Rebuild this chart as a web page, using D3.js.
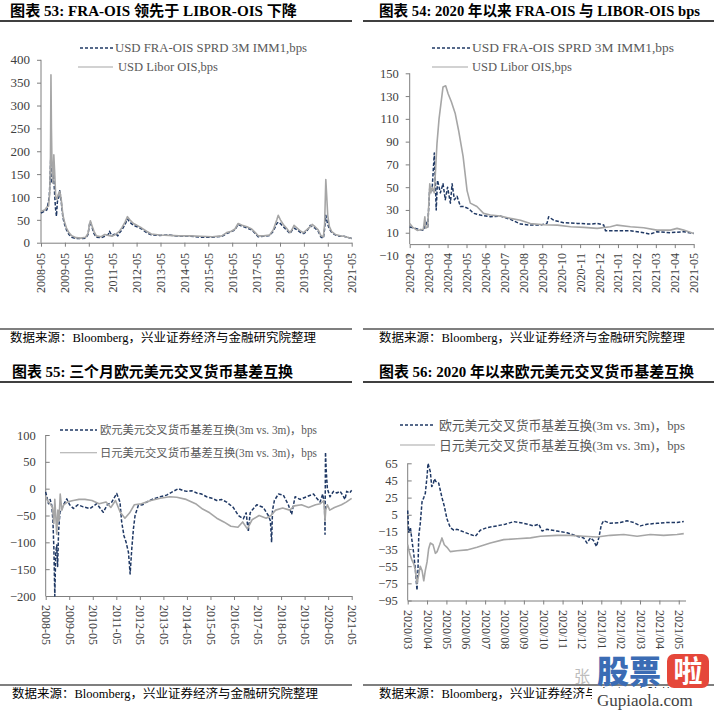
<!DOCTYPE html>
<html>
<head>
<meta charset="utf-8">
<script src="https://cdn.jsdelivr.net/npm/d3@7"></script>
<style>
  body { margin: 0; background: #fff; }
  svg text { font-family: "Liberation Serif", "Noto Sans CJK SC", serif; }
</style>
</head>
<body>
<svg id="chart" width="714" height="710"></svg>
<script>
// ---- Panel 53: FRA-OIS vs Libor-OIS since 2008 (x = decimal year, bps)
const p1Labels = ["2008-05","2009-05","2010-05","2011-05","2012-05","2013-05","2014-05",
  "2015-05","2016-05","2017-05","2018-05","2019-05","2020-05","2021-05"];
const p1Fra = [[2008.33,65],[2008.45,68],[2008.58,72],[2008.68,100],[2008.72,150],[2008.74,185],
  [2008.76,130],[2008.79,165],[2008.82,135],[2008.86,150],[2008.90,110],[2008.94,75],[2008.98,58],
  [2009.02,90],[2009.08,100],[2009.12,115],[2009.18,90],[2009.25,55],[2009.32,40],[2009.40,28],
  [2009.50,18],[2009.62,12],[2009.80,9],[2010.00,9],[2010.20,10],[2010.30,18],[2010.37,42],
  [2010.40,45],[2010.46,35],[2010.55,20],[2010.65,12],[2010.85,11],[2011.00,14],[2011.15,18],
  [2011.20,25],[2011.30,15],[2011.45,20],[2011.55,15],[2011.62,22],[2011.72,28],[2011.85,40],
  [2011.95,52],[2012.05,45],[2012.20,38],[2012.35,35],[2012.55,30],[2012.75,22],[2012.95,17],
  [2013.30,16],[2013.70,17],[2014.10,14],[2014.60,14],[2015.00,12],[2015.50,12],[2015.90,14],
  [2016.10,20],[2016.30,24],[2016.45,28],[2016.58,40],[2016.75,36],[2016.95,32],[2017.15,28],
  [2017.30,20],[2017.42,13],[2017.65,14],[2017.90,16],[2018.05,25],[2018.20,42],[2018.26,45],
  [2018.35,42],[2018.47,35],[2018.60,28],[2018.75,20],[2018.85,28],[2018.92,32],[2019.05,28],
  [2019.20,22],[2019.32,20],[2019.45,25],[2019.60,38],[2019.68,35],[2019.80,32],[2019.93,25],
  [2020.05,12],[2020.15,10],[2020.20,30],[2020.25,60],[2020.29,50],[2020.33,40],[2020.40,30],
  [2020.50,22],[2020.65,17],[2020.85,14],[2021.00,14],[2021.15,12],[2021.33,9]];
const p1Libor = [[2008.33,68],[2008.40,70],[2008.50,72],[2008.58,78],[2008.65,80],[2008.70,110],
  [2008.73,190],[2008.75,367],[2008.77,250],[2008.80,150],[2008.83,130],[2008.87,192],[2008.90,160],
  [2008.95,100],[2009.00,95],[2009.05,105],[2009.12,112],[2009.18,95],[2009.25,60],[2009.32,45],
  [2009.40,32],[2009.50,22],[2009.62,15],[2009.80,11],[2010.00,10],[2010.20,12],[2010.30,20],
  [2010.36,40],[2010.40,48],[2010.46,38],[2010.55,25],[2010.65,15],[2010.85,13],[2011.00,18],
  [2011.15,16],[2011.30,14],[2011.45,18],[2011.60,24],[2011.72,33],[2011.85,45],[2011.95,57],
  [2012.05,50],[2012.20,42],[2012.35,38],[2012.55,32],[2012.75,25],[2012.95,19],[2013.30,17],
  [2013.70,16],[2014.10,15],[2014.60,15],[2015.00,14],[2015.50,13],[2015.90,15],[2016.10,22],
  [2016.30,25],[2016.45,30],[2016.58,42],[2016.75,38],[2016.95,35],[2017.15,30],[2017.30,22],
  [2017.42,15],[2017.65,15],[2017.90,17],[2018.05,28],[2018.20,50],[2018.26,60],[2018.35,50],
  [2018.47,40],[2018.60,32],[2018.75,22],[2018.85,30],[2018.92,38],[2019.05,32],[2019.20,25],
  [2019.32,22],[2019.45,28],[2019.60,35],[2019.68,40],[2019.80,35],[2019.93,28],[2020.05,15],
  [2020.15,13],[2020.20,40],[2020.25,138],[2020.29,100],[2020.33,60],[2020.40,35],[2020.50,24],
  [2020.65,18],[2020.85,15],[2021.00,14],[2021.15,12],[2021.33,9]];

// ---- Panel 54: since 2020 (x = months after 2020-02)
const p2Labels = ["2020-02","2020-03","2020-04","2020-05","2020-06","2020-07","2020-08","2020-09",
  "2020-10","2020-11","2020-12","2021-01","2021-02","2021-03","2021-04","2021-05"];
const p2Fra = [[0,15],[0.30,13.8],[0.74,12],[0.83,21],[0.95,15],[1.06,50],[1.18,47],[1.30,80],
  [1.40,30],[1.47,56],[1.62,45],[1.76,53],[1.88,39],[2.00,50],[2.15,36],[2.24,53],[2.36,39],
  [2.50,42],[2.68,33],[2.85,33],[3.12,31],[3.38,27],[3.73,25.5],[4.26,24],[4.79,24.6],[5.32,21.7],
  [5.85,17.6],[6.37,16.7],[6.90,16.7],[7.25,18.2],[7.34,24],[7.60,21],[8.13,18.8],[8.84,18.2],
  [9.54,17.6],[9.90,18.2],[10.25,16.7],[10.34,11.8],[10.95,11.8],[11.66,11.8],[12.36,10],
  [12.71,8.8],[13.06,10.9],[13.77,10],[14.47,10.9],[15,9.4]];
const p2Libor = [[0,18],[0.15,15],[0.40,12],[0.72,13],[0.80,24],[0.85,14],[0.95,15],[1.06,53],
  [1.12,45],[1.19,50],[1.30,45],[1.44,88],[1.55,110],[1.76,138],[1.90,139],[2.03,132],[2.20,125],
  [2.40,115],[2.58,100],[2.82,77],[3.03,47],[3.20,36],[3.55,33],[3.90,27],[4.26,25.5],[4.79,24.6],
  [5.32,22.6],[5.85,21],[6.37,18],[7.08,17],[7.80,16.7],[8.50,15.3],[9.20,14.7],[9.90,13.8],
  [10.60,15.3],[10.95,16.7],[11.66,15.3],[12.36,14.4],[13.06,12.3],[13.77,12.3],[14.12,13.8],
  [14.47,12.3],[15,9.4]];

// ---- Panel 55: 3m cross currency basis since 2008 (x = decimal year, bps)
const p3Labels = p1Labels;
const p3Eur = [[2008.33,-6],[2008.45,-28],[2008.52,-20],[2008.59,-31],[2008.64,-60],[2008.68,-110],
  [2008.72,-200],[2008.76,-120],[2008.80,-105],[2008.84,-145],[2008.88,-80],[2008.94,-44],
  [2009.08,-31],[2009.23,-19],[2009.35,-30],[2009.51,-37],[2009.70,-30],[2009.93,-34],[2010.22,-37],
  [2010.50,-28],[2010.78,-44],[2010.95,-30],[2011.14,-25],[2011.35,-9],[2011.49,-25],[2011.56,-62],
  [2011.66,-88],[2011.75,-100],[2011.85,-119],[2011.92,-159],[2011.99,-112],[2012.06,-75],
  [2012.13,-50],[2012.27,-31],[2012.45,-30],[2012.62,-25],[2012.91,-19],[2013.20,-15],[2013.47,-12],
  [2013.75,-5],[2013.97,0],[2014.15,-3],[2014.32,-5],[2014.55,-4],[2014.75,-8],[2014.95,-10],
  [2015.17,-15],[2015.40,-18],[2015.60,-22],[2015.80,-20],[2016.02,-25],[2016.30,-35],[2016.52,-50],
  [2016.73,-56],[2016.85,-45],[2016.94,-80],[2017.02,-45],[2017.10,-40],[2017.30,-30],[2017.58,-35],
  [2017.79,-50],[2017.88,-60],[2017.93,-100],[2017.97,-40],[2018.05,-22],[2018.22,-10],[2018.43,-12],
  [2018.64,-30],[2018.78,-48],[2018.86,-30],[2018.93,-15],[2019.14,-20],[2019.42,-15],[2019.71,-10],
  [2019.85,-18],[2019.99,-25],[2020.10,-10],[2020.18,-30],[2020.20,-85],[2020.22,68],[2020.25,35],
  [2020.30,0],[2020.41,-15],[2020.56,-5],[2020.70,-8],[2020.84,-5],[2020.95,-12],[2021.05,-20],
  [2021.12,-5],[2021.25,-8],[2021.33,-3]];
const p3Jpy = [[2008.33,-15],[2008.45,-25],[2008.55,-30],[2008.62,-35],[2008.68,-65],[2008.72,-20],
  [2008.76,-50],[2008.80,-85],[2008.85,-40],[2008.90,-60],[2008.95,-10],[2009.02,-40],[2009.10,-30],
  [2009.25,-25],[2009.50,-22],[2009.75,-20],[2010.00,-20],[2010.30,-22],[2010.60,-28],[2010.90,-25],
  [2011.10,-35],[2011.30,-22],[2011.50,-44],[2011.70,-55],[2011.90,-45],[2012.10,-30],[2012.40,-28],
  [2012.80,-22],[2013.20,-18],[2013.60,-15],[2013.90,-16],[2014.30,-20],[2014.70,-28],[2015.00,-38],
  [2015.30,-45],[2015.60,-55],[2015.90,-62],[2016.20,-70],[2016.50,-72],[2016.70,-62],[2016.90,-75],
  [2017.10,-58],[2017.40,-50],[2017.70,-55],[2017.90,-50],[2018.10,-40],[2018.40,-36],[2018.70,-40],
  [2018.90,-32],[2019.20,-30],[2019.50,-35],[2019.80,-30],[2020.00,-28],[2020.15,-22],[2020.20,-60],
  [2020.23,-40],[2020.30,-30],[2020.40,-40],[2020.60,-35],[2020.90,-30],[2021.10,-25],[2021.33,-18]];

// ---- Panel 56: since 2020 (x = months after 2020/03)
const p4Labels = ["2020/03","2020/04","2020/05","2020/06","2020/07","2020/08","2020/09","2020/10",
  "2020/11","2020/12","2021/01","2021/02","2021/03","2021/04","2021/05"];
const p4Eur = [[0,10],[0.05,-15],[0.14,-10],[0.22,-25],[0.31,-40],[0.40,-60],[0.48,-83],[0.53,-60],
  [0.57,-20],[0.65,-5],[0.74,20],[0.83,25],[0.91,30],[1.00,50],[1.05,65],[1.17,55],[1.24,38],
  [1.31,40],[1.38,47],[1.45,44],[1.60,42],[1.77,25],[1.89,15],[2.03,0],[2.20,-10],[2.38,-13],
  [2.55,-12],[2.89,-15],[3.24,-18],[3.50,-20],[3.75,-13],[4.10,-10],[4.61,-8],[5.04,-6],[5.48,-3],
  [6.00,-5],[6.50,-8],[6.77,-6],[6.94,-14],[7.20,-12],[7.71,-14],[8.23,-16],[8.75,-20],[9.09,-22],
  [9.26,-28],[9.44,-22],[9.60,-25],[9.75,-32],[9.87,-22],[10.00,-7],[10.12,-2],[10.47,-5],
  [10.98,-4],[11.33,-2],[11.67,-4],[12.02,-8],[12.36,-6],[12.88,-5],[13.40,-4],[13.91,-4],[14.26,-3]];
const p4Jpy = [[0,-30],[0.10,-40],[0.22,-48],[0.31,-52],[0.40,-60],[0.48,-75],[0.57,-65],[0.65,-55],
  [0.74,-60],[0.83,-72],[0.91,-60],[1.00,-50],[1.08,-35],[1.17,-28],[1.31,-30],[1.43,-40],[1.52,-38],
  [1.65,-30],[1.77,-22],[1.89,-30],[2.03,-33],[2.20,-38],[2.55,-37],[3.06,-36],[3.58,-33],[4.27,-28],
  [4.96,-24],[5.65,-23],[6.34,-22],[6.85,-20],[7.71,-19],[8.40,-19],[9.09,-20],[9.78,-21],
  [10.47,-19],[11.16,-18],[11.85,-20],[12.53,-18],[13.22,-19],[13.91,-18],[14.26,-17]];

const titles = ["图表 53:  FRA-OIS 领先于 LIBOR-OIS 下降", "图表 54:  2020 年以来 FRA-OIS 与 LIBOR-OIS bps",
  "图表 55:  三个月欧元美元交叉货币基差互换", "图表 56:  2020 年以来欧元美元交叉货币基差互换"];
const source = "数据来源：Bloomberg，兴业证券经济与金融研究院整理";
const fraName = "USD FRA-OIS SPRD 3M IMM1,bps", liborName = "USD Libor OIS,bps";
const eurName = "欧元美元交叉货币基差互换(3m vs. 3m)，bps", jpyName = "日元美元交叉货币基差互换(3m vs. 3m)，bps";

const navy = "#1f3864", grey = "#a6a6a6", axisCol = "#7f7f7f", txtCol = "#404040";
const svg = d3.select("#chart");

// label string -> x value
const yearPos = (s) => +s.slice(0, 4) + (+s.slice(5, 7) - 1) / 12;
const monthPos = (start) => (s) => (+s.slice(0, 4) - 2020) * 12 + (+s.slice(5, 7)) - start;

function drawPanel(p) {
  const x = d3.scaleLinear().domain(p.xDomain).range(p.xRange);
  const y = d3.scaleLinear().domain(p.yDomain).range(p.yRange);
  const g = svg.append("g");
  const axisY = y(p.xAxisAt);

  // Y axis: ticks + labels, line drawn separately so it stops at the x axis
  g.append("g")
    .attr("transform", `translate(${p.xRange[0]},0)`)
    .call(d3.axisLeft(y).tickValues(p.yTicks).tickSizeOuter(0)
      .tickSizeInner(p.inside ? -4 : 4).tickPadding(p.inside ? 10 : 7))
    .attr("color", axisCol)
    .call((a) => a.select(".domain").remove())
    .selectAll("text")
    .attr("fill", txtCol)
    .attr("font-size", p.yFont + "px");
  g.append("line")
    .attr("x1", p.xRange[0]).attr("x2", p.xRange[0])
    .attr("y1", p.yRange[1]).attr("y2", axisY)
    .attr("stroke", axisCol);

  // X axis with rotated labels
  const xa = g.append("g")
    .attr("transform", `translate(0,${axisY})`)
    .call(d3.axisBottom(x).tickValues(p.labels.map(p.pos)).tickFormat((d, i) => p.labels[i])
      .tickSizeInner(4).tickSizeOuter(0))
    .attr("color", axisCol);
  xa.selectAll("text")
    .attr("fill", txtCol)
    .attr("font-size", "12px")
    .attr("x", 0).attr("y", 0).attr("dy", "0.33em")
    .attr("text-anchor", p.rot < 0 ? "end" : "start")
    .attr("transform", `translate(0,${p.labelTop - axisY}) rotate(${p.rot})`);

  const line = d3.line().x((d) => x(d[0])).y((d) => y(d[1]));
  p.series.forEach((s) => {
    g.append("path")
      .datum(s.data)
      .attr("d", line)
      .attr("fill", "none")
      .attr("stroke", s.dashed ? navy : grey)
      .attr("stroke-width", s.dashed ? 1.5 : 1.6)
      .attr("stroke-dasharray", s.dashed ? "3.5,1.8" : null)
      .attr("stroke-linejoin", "round");
  });

  // Legend (text stretched to the width it has in the source image)
  p.legend.forEach((l) => {
    g.append("line")
      .attr("x1", l.x1).attr("x2", l.x2).attr("y1", l.y).attr("y2", l.y)
      .attr("stroke", l.dashed ? navy : grey)
      .attr("stroke-width", l.dashed ? 1.3 : 1.1)
      .attr("stroke-dasharray", l.dashed ? "3,2" : null);
    g.append("text")
      .attr("x", l.tx).attr("y", l.y).attr("dy", "0.35em")
      .attr("font-size", l.fs + "px")
      .attr("fill", "#595959")
      .attr("textLength", l.w).attr("lengthAdjust", "spacingAndGlyphs")
      .text(l.label);
  });
}

// Headers, rules and source notes
const titleW = [287, 321, 281, 315];
[[0, 10, 16, 21, 329, 342], [357, 379, 16, 21, 329, 342], [0, 12, 377, 382, 685, 698], [357, 379, 377, 382, 685, 698]]
  .forEach(([ox, tx, ty, rule, srcRule, sy], i) => {
    svg.append("text").attr("x", tx).attr("y", ty)
      .attr("font-size", "15px").attr("font-weight", "bold").attr("fill", "#000")
      .attr("textLength", titleW[i]).attr("lengthAdjust", "spacingAndGlyphs")
      .text(titles[i]);
    svg.append("line").attr("x1", ox + (ox ? 6 : 0)).attr("x2", ox + (ox ? 357 : 352))
      .attr("y1", rule).attr("y2", rule).attr("stroke", "#000").attr("stroke-width", 1.4);
    svg.append("line").attr("x1", ox + (ox ? 6 : 0)).attr("x2", ox + (ox ? 357 : 352))
      .attr("y1", srcRule).attr("y2", srcRule).attr("stroke", "#000").attr("stroke-width", 1.2);
    svg.append("text").attr("x", tx).attr("y", sy)
      .attr("font-size", "12px").attr("fill", "#000")
      .attr("textLength", 306).attr("lengthAdjust", "spacingAndGlyphs")
      .text(source);
  });

drawPanel({
  xDomain: [yearPos("2008-05"), yearPos("2021-05")], xRange: [41, 351.7],
  yDomain: [0, 400], yRange: [242.7, 59.8], yTicks: d3.range(0, 401, 50), xAxisAt: 0,
  yFont: 13, inside: false, labels: p1Labels, pos: yearPos, rot: -90, labelTop: 253,
  series: [{ data: p1Fra, dashed: true }, { data: p1Libor, dashed: false }],
  legend: [
    { x1: 80, x2: 113, y: 48, tx: 115, fs: 12.5, w: 192, dashed: true, label: fraName },
    { x1: 78, x2: 113, y: 67, tx: 118, fs: 12.5, w: 100, dashed: false, label: liborName }
  ]
});

drawPanel({
  xDomain: [0, 15], xRange: [409.7, 693.7],
  yDomain: [-10, 150], yRange: [255.5, 73.3], yTicks: d3.range(-10, 151, 20), xAxisAt: 0,
  yFont: 12.5, inside: false, labels: p2Labels, pos: monthPos(2), rot: -90, labelTop: 253,
  series: [{ data: p2Fra, dashed: true }, { data: p2Libor, dashed: false }],
  legend: [
    { x1: 432, x2: 470, y: 48, tx: 472, fs: 12.5, w: 202, dashed: true, label: fraName },
    { x1: 432, x2: 468, y: 67, tx: 472, fs: 12.5, w: 100, dashed: false, label: liborName }
  ]
});

drawPanel({
  xDomain: [yearPos("2008-05"), yearPos("2021-05")], xRange: [45.7, 351.7],
  yDomain: [-200, 100], yRange: [596, 435], yTicks: d3.range(-200, 101, 50), xAxisAt: -200,
  yFont: 12.5, inside: true, labels: p3Labels, pos: yearPos, rot: 90, labelTop: 605,
  series: [{ data: p3Eur, dashed: true }, { data: p3Jpy, dashed: false }],
  legend: [
    { x1: 60, x2: 97, y: 430, tx: 100, fs: 11.5, w: 217, dashed: true, label: eurName },
    { x1: 60, x2: 97, y: 452.7, tx: 100, fs: 11.5, w: 217, dashed: false, label: jpyName }
  ]
});

drawPanel({
  xDomain: [0, 14.35], xRange: [407.7, 407.7 + 14.35 * 19.36],
  yDomain: [-95, 65], yRange: [600.5, 463.3], yTicks: d3.range(-95, 66, 20), xAxisAt: -95,
  yFont: 12.5, inside: true, labels: p4Labels, pos: monthPos(3), rot: 90, labelTop: 610,
  series: [{ data: p4Eur, dashed: true }, { data: p4Jpy, dashed: false }],
  legend: [
    { x1: 400, x2: 435, y: 425, tx: 439, fs: 13, w: 246, dashed: true, label: eurName },
    { x1: 400, x2: 435, y: 445, tx: 439, fs: 13, w: 246, dashed: false, label: jpyName }
  ]
});

// Site watermark over the last source note
const wm = svg.append("g");
wm.append("rect").attr("x", 592).attr("y", 688).attr("width", 122).attr("height", 22).attr("fill", "#fff");
wm.append("text").attr("x", 574).attr("y", 682).attr("font-size", "16px").attr("fill", "#bdbdbd").text("张");
wm.append("text").attr("x", 597).attr("y", 683)
  .attr("font-size", "32px").attr("font-weight", "900").attr("fill", "#3b6cb4")
  .style("font-family", "'Noto Sans CJK SC'").text("股票");
wm.append("rect").attr("x", 667).attr("y", 654).attr("width", 42).attr("height", 34).attr("rx", 7)
  .attr("fill", "#e5473a");
wm.append("text").attr("x", 688).attr("y", 682).attr("text-anchor", "middle")
  .attr("font-size", "29px").attr("font-weight", "bold").attr("fill", "#fff")
  .style("font-family", "'Noto Sans CJK SC'").text("啦");
wm.append("text").attr("x", 597).attr("y", 706)
  .attr("font-size", "17px").attr("fill", "#444").text("Gupiaola.com");
</script>
</body>
</html>
